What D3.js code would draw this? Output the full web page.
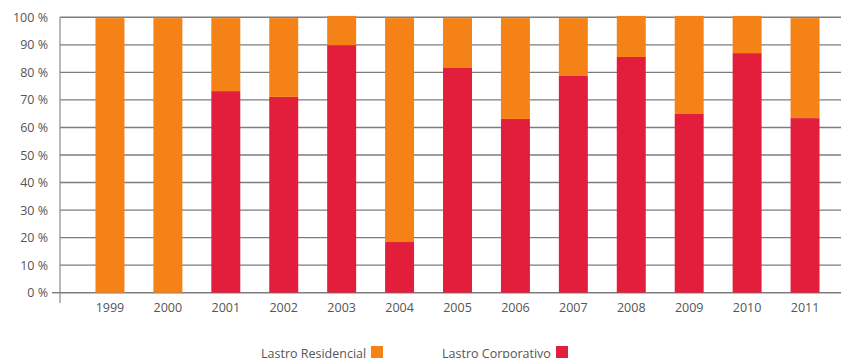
<!DOCTYPE html>
<html>
<head>
<meta charset="utf-8">
<script src="https://cdn.jsdelivr.net/npm/d3@7"></script>
<style>
  html, body { margin: 0; padding: 0; background: #fff; }
  svg { display: block; }
  text { font-family: "Open Sans", "Lato", sans-serif; fill: #555; }
</style>
</head>
<body>
<svg id="chart" width="841" height="358"></svg>
<script>
// Yearly split of the backing portfolio (percent of total)
const years = ["1999", "2000", "2001", "2002", "2003", "2004", "2005", "2006", "2007", "2008", "2009", "2010", "2011"];
const corporativo = [0, 0, 73.2, 71.1, 89.9, 18.4, 81.6, 63.1, 78.7, 85.6, 64.9, 87.0, 63.4];
const residencial = [99.7, 99.7, 26.5, 28.6, 10.6, 81.3, 18.1, 36.6, 21.0, 14.9, 35.6, 13.5, 36.3];
const yTicks = [0, 10, 20, 30, 40, 50, 60, 70, 80, 90, 100];
const seriesNames = ["Lastro Residencial", "Lastro Corporativo"];
const colors = { "Lastro Residencial": "#f58216", "Lastro Corporativo": "#e21e3c" };

const svg = d3.select("#chart");

const x = d3.scaleBand()
  .domain(years)
  .range([81, 834])
  .paddingInner(0.5)
  .paddingOuter(0.25);

const y = d3.scaleLinear()
  .domain([0, 100])
  .range([292.7, 17.3]);

// horizontal gridlines
svg.append("g")
  .selectAll("line")
  .data(yTicks)
  .join("line")
  .attr("x1", 60)
  .attr("x2", 841)
  .attr("y1", d => y(d))
  .attr("y2", d => y(d))
  .attr("stroke", "#7d7d7d")
  .attr("stroke-width", 1.4);

// y axis line and the short tick below zero
svg.append("line")
  .attr("x1", 60).attr("x2", 60)
  .attr("y1", y(100)).attr("y2", 303)
  .attr("stroke", "#8a8a8a").attr("stroke-width", 1.2);
svg.append("line")
  .attr("x1", 52).attr("x2", 60)
  .attr("y1", y(0)).attr("y2", y(0))
  .attr("stroke", "#7d7d7d").attr("stroke-width", 1.4);

// y tick labels
svg.append("g")
  .selectAll("text")
  .data(yTicks)
  .join("text")
  .attr("x", 48)
  .attr("y", d => y(d) + 4.5)
  .attr("text-anchor", "end")
  .attr("font-size", 12.5)
  .text(d => d + " %");

// stacked bars
const rows = years.map((yr, i) => ({
  year: yr,
  "Lastro Corporativo": corporativo[i],
  "Lastro Residencial": residencial[i]
}));
const stack = d3.stack().keys(["Lastro Corporativo", "Lastro Residencial"]);
const layers = stack(rows);

svg.append("g")
  .selectAll("g")
  .data(layers)
  .join("g")
  .attr("fill", d => colors[d.key])
  .selectAll("rect")
  .data(d => d)
  .join("rect")
  .attr("x", d => x(d.data.year))
  .attr("width", x.bandwidth())
  .attr("y", d => y(d[1]))
  .attr("height", d => y(d[0]) - y(d[1]));

// x labels
svg.append("g")
  .selectAll("text")
  .data(years)
  .join("text")
  .attr("x", d => x(d) + x.bandwidth() / 2)
  .attr("y", 312)
  .attr("text-anchor", "middle")
  .attr("font-size", 12.5)
  .text(d => d);

// legend
const legendPos = [{ tx: 261, sx: 371 }, { tx: 442, sx: 556 }];
const legend = svg.append("g")
  .selectAll("g")
  .data(seriesNames)
  .join("g");
legend.append("text")
  .attr("x", (d, i) => legendPos[i].tx)
  .attr("y", 358)
  .attr("font-size", 12.5)
  .text(d => d);
legend.append("rect")
  .attr("x", (d, i) => legendPos[i].sx)
  .attr("y", 346)
  .attr("width", 12)
  .attr("height", 12)
  .attr("fill", d => colors[d]);
</script>
</body>
</html>
